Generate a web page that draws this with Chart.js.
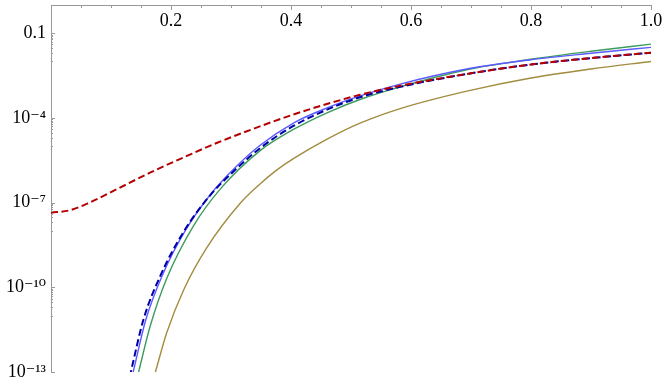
<!DOCTYPE html>
<html>
<head>
<meta charset="utf-8">
<script src="https://cdn.jsdelivr.net/npm/chart.js@4.4.1/dist/chart.umd.min.js"></script>
<style>
  html, body { margin: 0; padding: 0; background: #fff; }
  #wrap { width: 664px; height: 384px; }
</style>
</head>
<body>
<div id="wrap"><canvas id="c"></canvas></div>
<script>
// values (x, y on a log scale)
const RED_X = [0, 0.032, 0.065, 0.11, 0.165, 0.22, 0.276, 0.348, 0.404, 0.461, 0.515, 0.582, 0.693, 0.8, 0.9, 1.0];
const RED_Y = [4.4e-8, 5.4e-8, 1.02e-7, 3.0e-7, 1.15e-6, 3.9e-6, 1.29e-5, 5.0e-5, 1.32e-4, 3.16e-4, 6.6e-4, 1.38e-3, 3.6e-3, 7.8e-3, 1.32e-2, 2.04e-2];

const NAVY_X = [0.133, 0.154, 0.182, 0.222, 0.265, 0.304, 0.348, 0.404, 0.461, 0.515, 0.582, 0.693, 0.8, 0.9, 1.0];
const NAVY_Y = [1e-13, 7.1e-12, 2.5e-10, 1e-8, 1.78e-7, 1.26e-6, 8.3e-6, 5.2e-5, 2.0e-4, 5.4e-4, 1.26e-3, 3.6e-3, 7.8e-3, 1.32e-2, 2.04e-2];

const BLUE_X = [0.137, 0.158, 0.186, 0.225, 0.267, 0.305, 0.348, 0.404, 0.461, 0.515, 0.582, 0.693, 0.8, 0.9, 1.0];
const BLUE_Y = [1e-13, 7.1e-12, 2.8e-10, 1.12e-8, 2.1e-7, 1.58e-6, 1.05e-5, 6.6e-5, 2.3e-4, 6.0e-4, 1.58e-3, 5.4e-3, 1.15e-2, 1.95e-2, 3.16e-2];

const GREEN_X = [0.146, 0.165, 0.193, 0.237, 0.282, 0.348, 0.404, 0.461, 0.515, 0.582, 0.693, 0.8, 0.9, 1.0];
const GREEN_Y = [1e-13, 4.0e-12, 2.1e-10, 1.45e-8, 3.0e-7, 6.8e-6, 3.9e-5, 1.55e-4, 4.5e-4, 1.26e-3, 5.1e-3, 1.2e-2, 2.3e-2, 4.1e-2];

const OLIVE_X = [0.174, 0.193, 0.222, 0.26, 0.315, 0.348, 0.376, 0.404, 0.461, 0.515, 0.582, 0.693, 0.8, 0.9, 1.0];
const OLIVE_Y = [1e-13, 2.5e-12, 8.9e-11, 2.6e-9, 9.3e-8, 4.5e-7, 1.41e-6, 3.6e-6, 1.8e-5, 6.5e-5, 2.14e-4, 8.9e-4, 2.6e-3, 5.4e-3, 1.0e-2];

const X_TICKS = [0.2, 0.4, 0.6, 0.8, 1.0];
const X_MINOR = [0.05, 0.1, 0.15, 0.25, 0.3, 0.35, 0.45, 0.5, 0.55, 0.65, 0.7, 0.75, 0.85, 0.9, 0.95];
const Y_TICKS = [1e-1, 1e-4, 1e-7, 1e-10, 1e-13];
const Y_LABELS = ['0.1', '10\u207B\u2074', '10\u207B\u2077', '10\u207B\u00B9\u2070', '10\u207B\u00B9\u00B3'];
const Y_MINOR_K = [1, 2, 3, 4, 5, 6, 7, 8, 9];

const AXIS = '#999999';
const FONT = '"Liberation Serif", "DejaVu Serif", serif';

const pts = (xs, ys) => xs.map((x, i) => ({ x, y: ys[i] }));

// minor ticks: k * 10^(m-1) under each major 10^m
const yMinor = [];
Y_TICKS.forEach(m => {
    if (m <= 1e-13) return;
    Y_MINOR_K.forEach(k => yMinor.push(k * m / 10));
});

const tickMarks = {
    id: 'tickMarks',
    afterDraw(chart) {
        const { ctx, chartArea, scales } = chart;
        ctx.save();
        ctx.strokeStyle = AXIS;
        ctx.lineWidth = 1;
        ctx.beginPath();
        X_TICKS.concat(X_MINOR).forEach(v => {
            const px = Math.round(scales.x.getPixelForValue(v)) + 0.5;
            const len = X_TICKS.includes(v) ? 5 : 3;
            ctx.moveTo(px, chartArea.top);
            ctx.lineTo(px, chartArea.top + len);
        });
        Y_TICKS.concat(yMinor).forEach(v => {
            const py = Math.round(scales.y.getPixelForValue(v)) + 0.5;
            const len = Y_TICKS.includes(v) ? 4 : 2;
            ctx.moveTo(chartArea.left, py);
            ctx.lineTo(chartArea.left + len, py);
        });
        ctx.stroke();

        ctx.fillStyle = '#000';
        ctx.font = '18px ' + FONT;
        ctx.textAlign = 'center';
        ctx.textBaseline = 'top';
        X_TICKS.forEach(v => {
            ctx.fillText(v.toFixed(1), scales.x.getPixelForValue(v), chartArea.top + 7);
        });
        ctx.restore();
    },
};

new Chart(document.getElementById('c'), {
    type: 'line',
    data: {
        datasets: [
            { data: pts(RED_X, RED_Y), borderColor: '#b40000', borderWidth: 2, borderDash: [7, 3.5] },
            { data: pts(NAVY_X, NAVY_Y), borderColor: '#0000a8', borderWidth: 2, borderDash: [7, 3.5], borderDashOffset: 5 },
            { data: pts(BLUE_X, BLUE_Y), borderColor: '#5a5aff', borderWidth: 1.4 },
            { data: pts(GREEN_X, GREEN_Y), borderColor: '#3c9c5c', borderWidth: 1.4 },
            { data: pts(OLIVE_X, OLIVE_Y), borderColor: '#a28c3e', borderWidth: 1.4 },
        ],
    },
    options: {
        responsive: true,
        maintainAspectRatio: false,
        animation: false,
        events: [],
        layout: { padding: { top: 5, right: 13, bottom: 12, left: 0 } },
        elements: {
            point: { radius: 0 },
            line: { cubicInterpolationMode: 'monotone', fill: false },
        },
        plugins: {
            legend: { display: false },
            tooltip: { enabled: false },
        },
        scales: {
            x: {
                type: 'linear',
                position: 'top',
                min: 0,
                max: 1,
                grid: { display: false, drawTicks: false },
                border: { display: true, color: AXIS, width: 1 },
                ticks: { display: false },
                afterFit: scale => { scale.height = 0; },
            },
            y: {
                type: 'logarithmic',
                min: 1e-13,
                max: 1,
                grid: { display: false, drawTicks: false },
                border: { display: true, color: AXIS, width: 1 },
                afterBuildTicks: scale => {
                    scale.ticks = Y_TICKS.concat(yMinor).sort((a, b) => a - b).map(value => ({ value }));
                },
                afterFit: scale => {
                    scale.width = 51;
                    scale.paddingTop = 0;
                    scale.paddingBottom = 0;
                },
                ticks: {
                    padding: 5,
                    color: '#000',
                    font: { family: FONT, size: 18 },
                    autoSkip: false,
                    callback: v => {
                        const i = Y_TICKS.findIndex(t => Math.abs(Math.log10(t) - Math.log10(v)) < 1e-6);
                        return i >= 0 ? Y_LABELS[i] : '';
                    },
                },
            },
        },
    },
    plugins: [tickMarks],
});
</script>
</body>
</html>
